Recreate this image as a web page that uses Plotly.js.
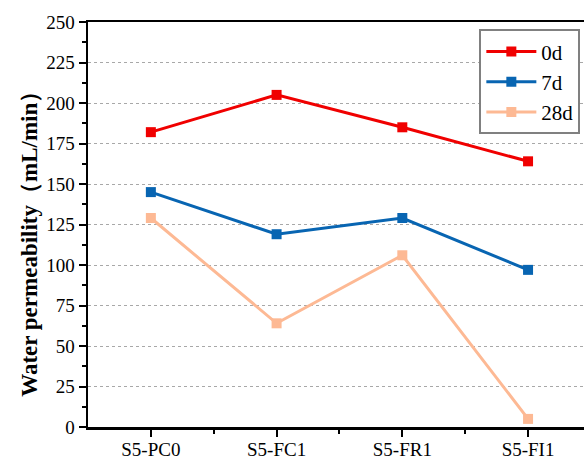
<!DOCTYPE html>
<html>
<head>
<meta charset="utf-8">
<script src="https://cdn.plot.ly/plotly-3.0.1.min.js"></script>
<style>html,body{margin:0;padding:0;background:#fff;}#chart{width:584px;height:461px;}</style>
</head>
<body>
<div id="chart"></div>
<script>
const categories = ["S5-PC0", "S5-FC1", "S5-FR1", "S5-FI1"];
const seriesNames = ["0d", "7d", "28d"];
const values0d = [182, 205, 185, 164];
const values7d = [145, 119, 129, 97];
const values28d = [129, 64, 106, 5];
const yTickVals = [0, 25, 50, 75, 100, 125, 150, 175, 200, 225, 250];
const yTitle = "Water permeability（mL/min）";

const colors = ["#F00000", "#0865B2", "#FDB994"];
const allValues = [values0d, values7d, values28d];
const xIdx = categories.map((c, i) => i);
const serif = "Liberation Serif";

const traces = allValues.map((vals, k) => ({
  x: xIdx,
  y: vals,
  type: "scatter",
  mode: "lines+markers",
  name: seriesNames[k],
  line: {color: colors[k], width: 3},
  marker: {symbol: "square", size: 10, color: colors[k], line: {width: 0}}
}));

const layout = {
  width: 584, height: 461,
  margin: {l: 88, r: 0, t: 22, b: 34},
  paper_bgcolor: "#ffffff",
  plot_bgcolor: "#ffffff",
  font: {family: serif, color: "#000", size: 19},
  showlegend: true,
  legend: {
    x: 0.789, y: 0.982, xanchor: "left", yanchor: "top",
    bgcolor: "#ffffff", bordercolor: "#808080", borderwidth: 2,
    font: {family: serif, size: 21, color: "#000"},
    itemwidth: 50, tracegroupgap: 0
  },
  xaxis: {
    range: [-0.5, 3.445],
    tickmode: "array", tickvals: xIdx, ticktext: categories,
    ticks: "outside", ticklen: 7, tickwidth: 2, tickcolor: "#000",
    minor: {tickmode: "array", tickvals: [0.5, 1.5, 2.5], ticks: "outside", ticklen: 4, tickwidth: 2, tickcolor: "#000"},
    showline: true, linecolor: "#000", linewidth: 2.5, mirror: true,
    showgrid: false, zeroline: false,
    tickfont: {family: serif, size: 19},
    ticklabelstandoff: -3
  },
  yaxis: {
    range: [0, 250],
    tickmode: "array", tickvals: yTickVals,
    ticks: "outside", ticklen: 7, tickwidth: 2, tickcolor: "#000",
    minor: {dtick: 12.5, ticks: "outside", ticklen: 4, tickwidth: 2, tickcolor: "#000", showgrid: false},
    showline: true, linecolor: "#000", linewidth: 2.5,
    showgrid: true, gridcolor: "#A8A8A8", griddash: "3px,3px", gridwidth: 1,
    zeroline: false,
    tickfont: {family: serif, size: 19}
  },
  annotations: [{
    text: "<b>" + yTitle + "</b>",
    xref: "paper", yref: "paper",
    x: -0.117, y: 0.467, xanchor: "center", yanchor: "middle",
    textangle: -90, showarrow: false,
    font: {family: serif, size: 23, color: "#000"}
  }]
};

Plotly.newPlot("chart", traces, layout, {displayModeBar: false, staticPlot: true});
</script>
</body>
</html>
